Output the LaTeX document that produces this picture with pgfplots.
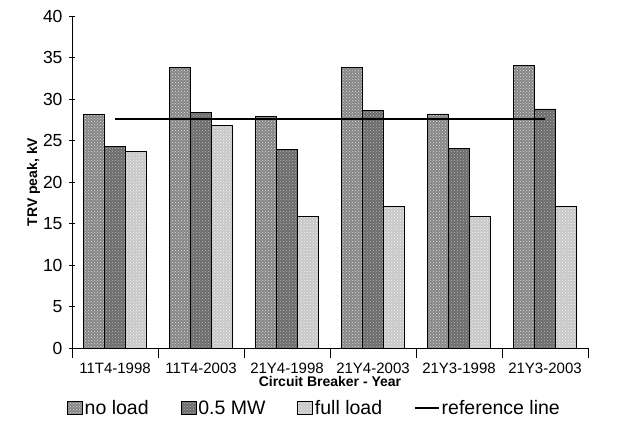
\documentclass[border=0pt]{standalone}
\usepackage{fontspec}
\setmainfont{Liberation Sans}
\usepackage{pgfplots}
\pgfplotsset{compat=1.18}
\usetikzlibrary{patterns}
\pgfplotstableread{
x noload half full
0 28.1 24.3 23.7
1 33.8 28.4 26.8
2 27.9 23.9 15.9
3 33.8 28.6 17.1
4 28.2 24.0 15.9
5 34.0 28.8 17.1
}\datatable
\pgfplotsset{
  sqlegend/.style={legend image code/.code={\draw[##1, line width=0.5pt] (0pt,-6pt) rectangle (15pt,7pt);}},
  sqlegendnb/.style={legend image code/.code={\draw[##1, draw=none] (0pt,-6pt) rectangle (15pt,7pt);}},
  linelegend/.style={legend image code/.code={\draw[black, line width=1.5pt] (0pt,0pt) -- (24pt,0pt);}},
}
\begin{document}
\begin{tikzpicture}
\begin{axis}[
  scale only axis,
  width=516pt, height=332pt,
  xmin=-0.5, xmax=5.5,
  ymin=0, ymax=40,
  ytick={0,5,...,40},
  xtick={0,...,5},
  xticklabels={11T4-1998,11T4-2003,21Y4-1998,21Y4-2003,21Y3-1998,21Y3-2003},
  minor xtick={-0.5,0.5,...,5.5},
  axis x line=bottom, axis y line=left,
  axis line style={-, line width=0.8pt},
  xtick style={draw=none},
  minor x tick style={draw=black, line width=0.8pt},
  minor tick length=10pt,
  major tick length=6pt,
  ytick style={draw=black, line width=0.8pt},
  yticklabel style={font=\fontsize{17.5}{19}\selectfont, xshift=-3pt},
  xticklabel style={font=\fontsize{15}{17}\selectfont, yshift=-5pt},
  /pgf/number format/assume math mode=true,
  ylabel={\textbf{TRV peak, kV}},
  ylabel style={font=\fontsize{14}{16}\selectfont, yshift=-4pt},
  xlabel={\textbf{Circuit Breaker - Year}},
  xlabel style={font=\fontsize{14}{16}\selectfont, yshift=4pt},
  ybar=0pt, bar width=21pt,
  legend style={draw=none, at={(0.47,-0.145)}, anchor=north, font=\fontsize{19.5}{21}\selectfont, legend columns=4, /tikz/every even column/.append style={column sep=30pt}},
  legend cell align=left,
  clip=false,
]
\addplot[draw=black, line width=0.6pt, fill=black!48, postaction={pattern=crosshatch dots, pattern color=black!12}, sqlegend]
  table[x=x, y=noload]{\datatable};
\addlegendentry{no load}
\addplot[draw=black, line width=0.6pt, fill=black!58, postaction={pattern=crosshatch dots, pattern color=black!28}, sqlegendnb]
  table[x=x, y=half]{\datatable};
\addlegendentry{0.5 MW}
\addplot[draw=black, line width=0.6pt, fill=black!22, postaction={pattern=crosshatch dots, pattern color=black!4}, sqlegend]
  table[x=x, y=full]{\datatable};
\addlegendentry{full load}
\addplot[sharp plot, black, line width=2pt, mark=none, linelegend]
  coordinates {(0,27.6) (5,27.6)};
\addlegendentry{reference line}
\end{axis}
\path (current axis.south west) ++(-72pt,-78pt) coordinate (bl);
\path (current axis.north east) ++(44pt,16pt) coordinate (tr);
\path (bl) rectangle (tr);
\end{tikzpicture}
\end{document}
